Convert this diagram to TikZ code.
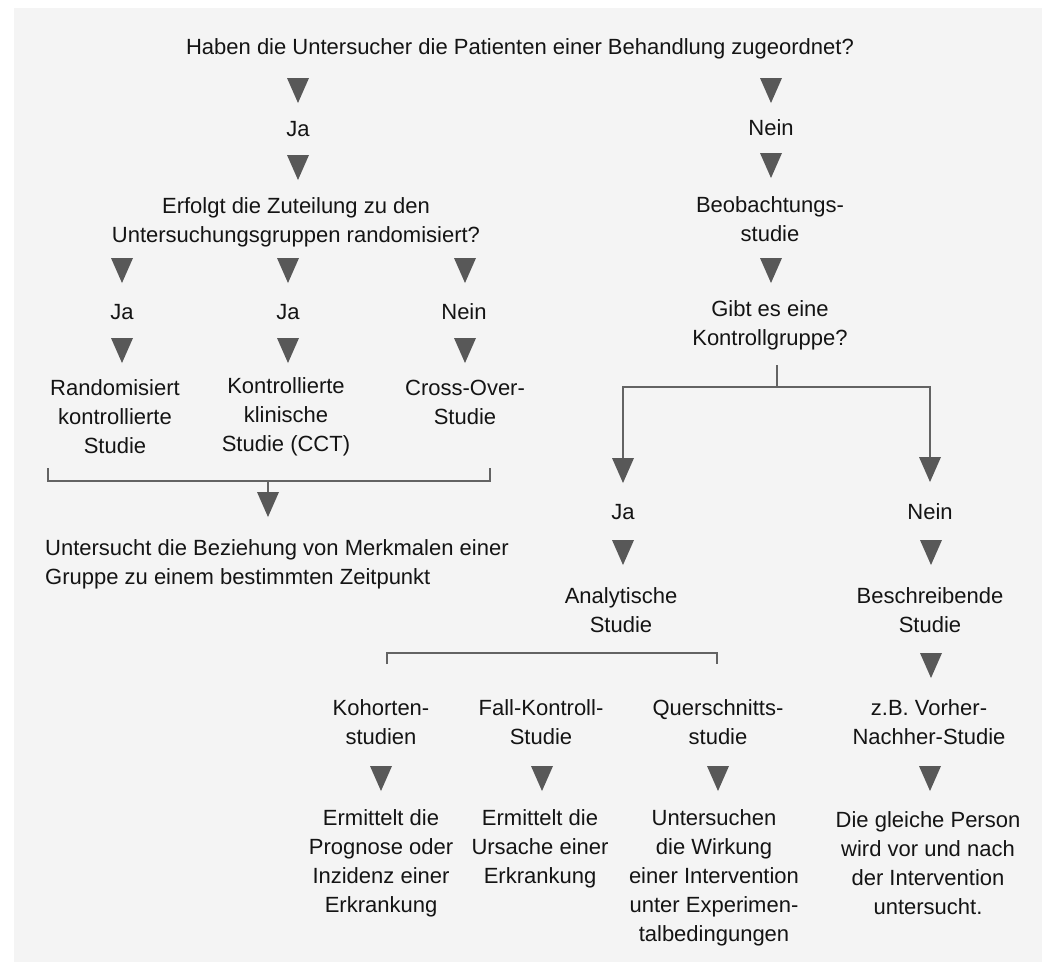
\documentclass[tikz,border=0pt]{standalone}
\usepackage{fontspec}
\setmainfont{Liberation Sans}
\usetikzlibrary{arrows.meta}
\definecolor{panelgray}{HTML}{F4F4F4}
\definecolor{inkblack}{HTML}{141414}
\definecolor{arrowgray}{HTML}{585858}
\definecolor{rulegray}{HTML}{636363}

\begin{document}
\begin{tikzpicture}[x=1pt,y=-1pt,
  txt/.style={align=center, inner sep=0pt, text=inkblack,
    font=\fontsize{22}{29}\selectfont},
  ltxt/.style={txt, align=left, anchor=west},
  wire/.style={draw=rulegray, line width=2.6pt},
  headed/.style={wire, -{Triangle[width=22pt,length=25pt,line width=0pt,fill=arrowgray,color=arrowgray]}},
  mk/.pic={\fill[arrowgray] (-11,0) -- (11,0) -- (0,25) -- cycle;}
]
% page and panel
\fill[white] (0,0) rectangle (1042,962);
\fill[panelgray] (14,8) rectangle (1042,962);

% top question
\node[txt] (q1) at (520,49) {Haben die Untersucher die Patienten einer Behandlung zugeordnet?};

% left branch: intervention
\pic at (298,78) {mk};
\node[txt] (ja1) at (298,129) {Ja};
\pic at (298,155) {mk};
\node[txt] (q2) at (296,222) {Erfolgt die Zuteilung zu den\\Untersuchungsgruppen randomisiert?};

\pic at (122,258) {mk};
\pic at (288,258) {mk};
\pic at (465,258) {mk};
\node[txt] (ja2) at (122,312) {Ja};
\node[txt] (ja3) at (288,312) {Ja};
\node[txt] (nein2) at (464,312) {Nein};
\pic at (122,338) {mk};
\pic at (288,338) {mk};
\pic at (465,338) {mk};
\node[txt] (rct) at (115,416.5) {Randomisiert\\kontrollierte\\Studie};
\node[txt] (cct) at (286,416.5) {Kontrollierte\\klinische\\Studie (CCT)};
\node[txt] (cross) at (465,402.5) {Cross-Over-\\Studie};

% bracket joining the three intervention studies
\coordinate (bl) at (48,468);
\coordinate (br) at (490,468);
\coordinate (bm) at (268,481);
\draw[wire] (bl) |- (bm) -| (br);
\coordinate (bmtip) at (268,517);
\draw[headed] (bm) -- (bmtip);
\node[ltxt] (quer1) at (45,564) {Untersucht die Beziehung von Merkmalen einer\\Gruppe zu einem bestimmten Zeitpunkt};

% right branch: observation
\pic at (771,78) {mk};
\node[txt] (nein1) at (771,128) {Nein};
\pic at (771,153) {mk};
\node[txt] (obs) at (770,219) {Beobachtungs-\\studie};
\pic at (771,258) {mk};
\node[txt] (q3) at (770,325) {Gibt es eine\\Kontrollgruppe?};

% split on control group
\coordinate (st) at (777,365);
\coordinate (sm) at (777,387);
\coordinate (tipL) at (623,483);
\coordinate (tipR) at (930,482);
\draw[wire] (st) -- (sm);
\draw[headed] (sm) -| (tipL);
\draw[headed] (sm) -| (tipR);

\node[txt] (ja4) at (623,512) {Ja};
\node[txt] (nein4) at (930,512) {Nein};
\pic at (623,540) {mk};
\pic at (931,540) {mk};
\node[txt] (ana) at (621,610.5) {Analytische\\Studie};
\node[txt] (desc) at (930,610.5) {Beschreibende\\Studie};

% bracket over the analytic study types
\coordinate (al) at (387,664);
\coordinate (ar) at (717,664);
\draw[wire] (al) -- ++(0,-11) -| (ar);
\pic at (931,653) {mk};

\node[txt] (koh) at (381,722.5) {Kohorten-\\studien};
\node[txt] (fk) at (541,722.5) {Fall-Kontroll-\\Studie};
\node[txt] (qs) at (718,722.5) {Querschnitts-\\studie};
\node[txt] (vn) at (929,722.5) {z.B. Vorher-\\Nachher-Studie};

\pic at (381,766) {mk};
\pic at (542,766) {mk};
\pic at (718,766) {mk};
\pic at (930,766) {mk};

\node[txt] (koht) at (381,863) {Ermittelt die\\Prognose oder\\Inzidenz einer\\Erkrankung};
\node[txt] (fkt) at (540,848.5) {Ermittelt die\\Ursache einer\\Erkrankung};
\node[txt] (qst) at (714,877.5) {Untersuchen\\die Wirkung\\einer Intervention\\unter Experimen-\\talbedingungen};
\node[txt] (vnt) at (928,863) {Die gleiche Person\\wird vor und nach\\der Intervention\\untersucht.};
\end{tikzpicture}
\end{document}
